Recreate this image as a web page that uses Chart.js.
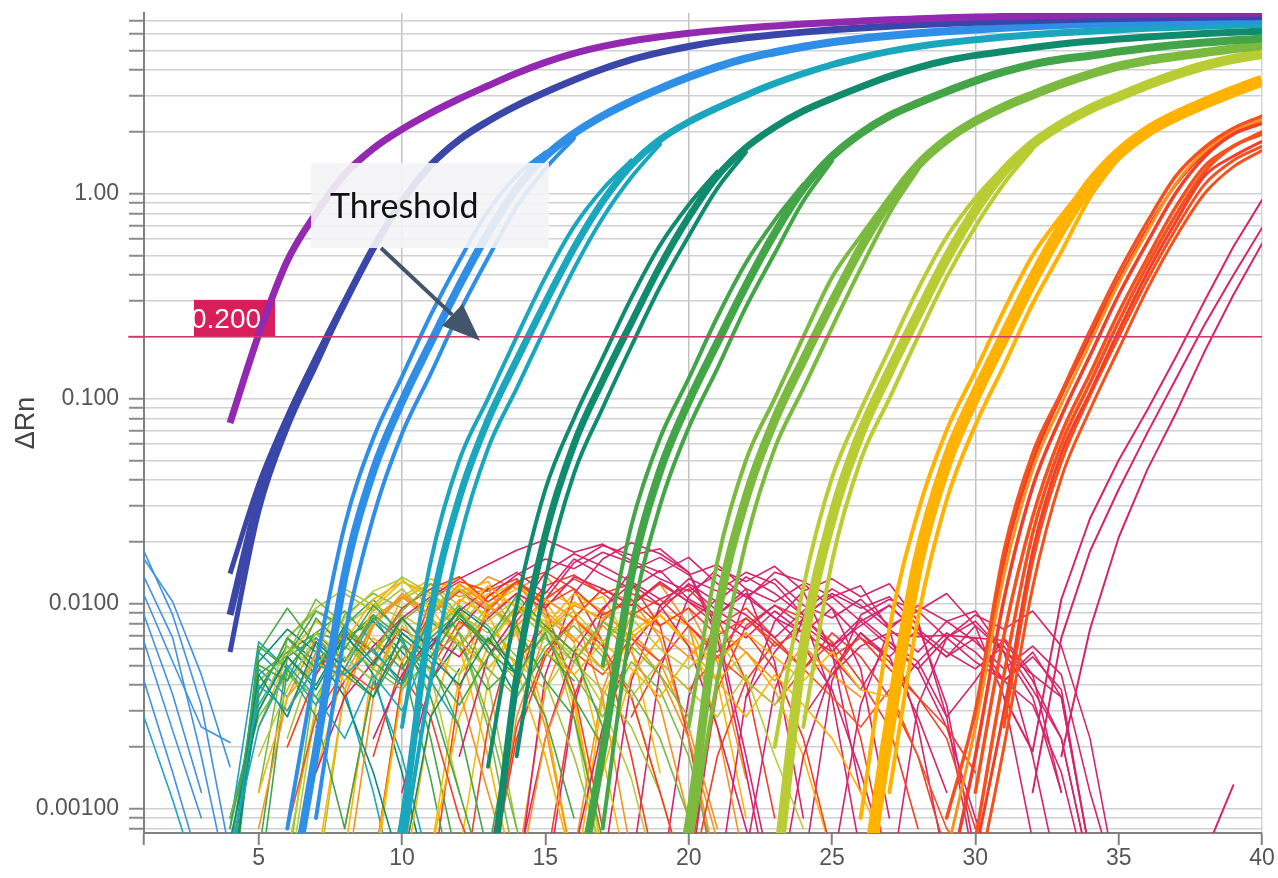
<!DOCTYPE html>
<html>
<head>
<meta charset="utf-8">
<script src="https://cdn.jsdelivr.net/npm/chart.js@4.4.1/dist/chart.umd.min.js"></script>
<style>
  html, body { margin: 0; padding: 0; background: #fff; }
  #wrap { width: 1278px; height: 878px; }
</style>
</head>
<body>
<div id="wrap"><canvas id="ampChart" width="1278" height="878"></canvas></div>
<script>
// --- Axes ---
const X_MIN = 1, X_MAX = 40;
const Y_MIN = 0.00076, Y_MAX = 7.6;
const xTickValues = [1, 5, 10, 15, 20, 25, 30, 35, 40];
const xGridValues = [10, 20, 30];
const yLabelValues = [0.001, 0.01, 0.1, 1];
const yLabelTexts = ["0.00100", "0.0100", "0.100", "1.00"];
const yDecades = [0.0001, 0.001, 0.01, 0.1, 1];
const ySteps = [1, 2, 3, 4, 5, 6, 7, 8, 9];

// --- Threshold ---
const THRESHOLD = 0.2;
const thresholdCycles = [0.45, 40];

// --- Amplification curves, ΔRn per cycle (first value = start cycle) ---
const purpleCurve = [0.076, 0.205, 0.47, 0.80, 1.24, 1.66, 2.06, 2.47, 2.9, 3.357, 3.864, 4.365, 4.83, 5.224, 5.553, 5.821, 6.053, 6.252, 6.427, 6.572, 6.71, 6.835, 6.94, 7.036, 7.117, 7.198, 7.264, 7.313, 7.364, 7.414, 7.447, 7.482, 7.516, 7.533, 7.551, 7.568, 7.586];
const darkBlueCurve = [0.0088, 0.0327, 0.0785, 0.154, 0.294, 0.542, 0.914, 1.377, 1.832, 2.254, 2.685, 3.12, 3.58, 4.05, 4.50, 4.88, 5.22, 5.51, 5.75, 5.95, 6.13, 6.29, 6.42, 6.55, 6.66, 6.76, 6.85, 6.92, 6.99, 7.05, 7.10, 7.15, 7.19, 7.22, 7.25, 7.28, 7.30];
const darkBlueLow = [0.0058, 0.028, 0.072, 0.145, 0.29, 0.54];
const darkBlueHigh = [0.014, 0.038, 0.082, 0.16, 0.3, 0.545];
const blueCurve = [0.0003, 0.0019, 0.0137, 0.0443, 0.0966, 0.187, 0.356, 0.64, 1.057, 1.517, 1.963, 2.393, 2.818, 3.25, 3.70, 4.15, 4.56, 4.89, 5.20, 5.47, 5.69, 5.88, 6.05, 6.19, 6.32, 6.44, 6.55, 6.64, 6.72, 6.80, 6.86, 6.91, 6.96, 7.01, 7.04];
const blueEarly = [0.0008, 0.005, 0.024, 0.064, 0.128, 0.255, 0.47, 0.82, 1.22, 1.59];
const blueLate = [0.0009, 0.007, 0.0265, 0.0673, 0.132, 0.263, 0.485, 0.863, 1.32, 1.86];
const cyanCurve = [0.0002, 0.00083, 0.0088, 0.0327, 0.0785, 0.154, 0.294, 0.542, 0.914, 1.377, 1.832, 2.235, 2.62, 3.02, 3.44, 3.85, 4.25, 4.61, 4.94, 5.22, 5.44, 5.63, 5.80, 5.95, 6.08, 6.19, 6.30, 6.40, 6.48, 6.55, 6.62, 6.67];
const cyanEarly = [0.0025, 0.016, 0.05, 0.1, 0.2, 0.39, 0.69, 1.05, 1.45];
const cyanLate = [0.0006, 0.0042, 0.02, 0.057, 0.112, 0.222, 0.43, 0.76, 1.2, 1.74];
const tealCurve = [0.0003, 0.00437, 0.0216, 0.0599, 0.1223, 0.2344, 0.4416, 0.767, 1.216, 1.675, 2.109, 2.53, 2.91, 3.31, 3.73, 4.12, 4.46, 4.72, 4.93, 5.16, 5.36, 5.53, 5.67, 5.81, 5.92, 6.03, 6.12, 6.20];
const tealEarly = [0.0016, 0.0098, 0.036, 0.08, 0.158, 0.31, 0.56, 0.88, 1.28];
const tealLate = [0.0018, 0.013, 0.043, 0.09, 0.18, 0.35, 0.62, 1.06, 1.59];
const greenCurve = [0.0003, 0.0019, 0.0137, 0.0443, 0.0966, 0.187, 0.356, 0.64, 1.057, 1.517, 1.963, 2.393, 2.765, 3.15, 3.545, 3.93, 4.27, 4.52, 4.70, 4.93, 5.13, 5.31, 5.45, 5.59, 5.70];
const greenEarly = [0.005, 0.024, 0.064, 0.125, 0.25, 0.46, 0.74, 1.11];
const greenLate = [0.0008, 0.008, 0.03, 0.072, 0.14, 0.28, 0.51, 0.92, 1.44];
const lightGreenCurve = [0.0002, 0.00083, 0.0088, 0.0327, 0.0785, 0.154, 0.294, 0.542, 0.914, 1.377, 1.832, 2.254, 2.65, 3.03, 3.43, 3.82, 4.18, 4.46, 4.67, 4.88, 5.09, 5.27];
const lightGreenEarly = [0.0025, 0.016, 0.05, 0.1, 0.2, 0.39, 0.62, 0.96];
const lightGreenLate = [0.0006, 0.0042, 0.02, 0.057, 0.112, 0.222, 0.43, 0.8, 1.31];
const limeCurve = [0.0004, 0.00608, 0.0261, 0.0676, 0.1352, 0.258, 0.483, 0.828, 1.285, 1.742, 2.17, 2.585, 2.97, 3.39, 3.81, 4.21, 4.54, 4.80];
const limeEarly = [0.002, 0.012, 0.041, 0.088, 0.174, 0.342, 0.614, 0.95, 1.35];
const limeLate = [0.0025, 0.016, 0.05, 0.1, 0.2, 0.39, 0.69, 1.12, 1.65];
const amberCurve = [0.0003, 0.00251, 0.01585, 0.049, 0.1035, 0.1995, 0.380, 0.676, 1.109, 1.567, 2.01, 2.395, 2.764, 3.152, 3.56];
const amberEarly = [0.0009, 0.0075, 0.028, 0.07, 0.136, 0.27, 0.5, 0.78, 1.16];
const amberLate = [0.0012, 0.0085, 0.032, 0.074, 0.145, 0.29, 0.52, 0.96, 1.49];
const red1 = [0.0009, 0.003, 0.018, 0.054, 0.107, 0.214, 0.411, 0.73, 1.22, 1.68, 2.08, 2.39];
const red2 = [0.0004, 0.0018, 0.0105, 0.037, 0.082, 0.162, 0.32, 0.578, 1.01, 1.51, 1.95, 2.2];
const red3 = [0.0012, 0.007, 0.0265, 0.0673, 0.132, 0.263, 0.485, 0.863, 1.36, 1.7, 2.0];
const red4 = [0.0006, 0.003, 0.018, 0.054, 0.107, 0.214, 0.411, 0.73, 1.22, 1.52, 1.8];
const red5 = [0.0004, 0.002, 0.012, 0.041, 0.088, 0.174, 0.342, 0.614, 1.0, 1.35, 1.62];
const red6 = [0.0006, 0.0025, 0.0138, 0.045, 0.094, 0.186, 0.365, 0.652, 1.12, 1.61, 2.0, 2.3];
const red7 = [0.0007, 0.0045, 0.022, 0.06, 0.119, 0.237, 0.447, 0.79, 1.28, 1.7, 1.95];
const red8 = [0.0025, 0.016, 0.049, 0.1035, 0.2, 0.38, 0.676, 1.109, 1.567, 1.95, 2.3];
const red9 = [0.0025, 0.016, 0.049, 0.1035, 0.2, 0.38, 0.676, 1.109, 1.45, 1.7];
const crimson1 = [0.0035, 0.0019, 0.0105, 0.026, 0.05, 0.088, 0.16, 0.3, 0.55, 0.93];
const crimson2 = [0.0012, 0.0068, 0.018, 0.036, 0.068, 0.125, 0.23, 0.4, 0.68];
const crimson3 = [0.0018, 0.0075, 0.021, 0.045, 0.085, 0.17, 0.32, 0.57];
const crimson4 = [0.0006, 0.0013];

// --- Baseline noise before take-off ---
const earlyBlue1 = [0.018, 0.0088, 0.0032, 0.0006];
const earlyBlue2 = [0.0165, 0.0102, 0.0045, 0.0016];
const earlyBlue3 = [0.0135, 0.0068, 0.0018, 0.0004];
const earlyBlue4 = [0.011, 0.0052, 0.0025, 0.0021];
const earlyBlue5 = [0.0088, 0.0036, 0.0012];
const earlyBlue6 = [0.0065, 0.0024, 0.0009];
const earlyBlue7 = [0.0042, 0.0015, 0.0005];
const earlyTeal1 = [0.0028, 0.0011, 0.0004];
const noise01 = [0.0005, 0.004, 0.003, 0.005, 0.0045, 0.006, 0.004, 0.009];
const noise02 = [0.0006, 0.0025, 0.005, 0.0035, 0.0022, 0.0045, 0.003, 0.0065];
const noise03 = [0.0007, 0.003, 0.0055, 0.004, 0.007, 0.005, 0.0085, 0.006, 0.0095, 0.0075, 0.0045];
const noise04 = [0.0005, 0.0045, 0.0028, 0.0065, 0.0048, 0.0035, 0.0072, 0.0055, 0.004, 0.0068, 0.0045];
const noise05 = [0.0006, 0.005, 0.0042, 0.0085, 0.006, 0.0098, 0.0072, 0.0055, 0.0088, 0.0065, 0.011, 0.0078, 0.0058, 0.0025];
const noise06 = [0.0008, 0.0035, 0.0068, 0.0048, 0.0075, 0.0052, 0.004, 0.0068, 0.0091, 0.0058, 0.0045, 0.0072, 0.0035, 0.002];
const noise07 = [0.0004, 0.0058, 0.0095, 0.0062, 0.0045, 0.0035, 0.0062, 0.0048, 0.0032, 0.0055, 0.0078, 0.0042, 0.0028, 0.0007];
const noise08 = [0.0005, 0.0042, 0.0056, 0.0105, 0.0078, 0.0058, 0.0092, 0.0125, 0.0088, 0.0064, 0.0098, 0.0075, 0.0052, 0.0082, 0.0062, 0.0045, 0.0028];
const noise09 = [0.0009, 0.0028, 0.0045, 0.0035, 0.0062, 0.0048, 0.0038, 0.0055, 0.0072, 0.0048, 0.0035, 0.0062, 0.0078, 0.0055, 0.0038, 0.0022, 0.0009];
const noise10 = [0.003, 0.0062, 0.0048, 0.0085, 0.0115, 0.0132, 0.0095, 0.0118, 0.0082, 0.0105, 0.0072, 0.0092, 0.0065, 0.0085, 0.006, 0.0048, 0.0068, 0.0042, 0.0032, 0.0055];
const noise11 = [0.0018, 0.0038, 0.0072, 0.0055, 0.0042, 0.0078, 0.0058, 0.0045, 0.0068, 0.0052, 0.0038, 0.0062, 0.0048, 0.0035, 0.0052, 0.0038, 0.0028, 0.0045, 0.0018, 0.0008];
const noise12 = [0.0025, 0.0055, 0.0082, 0.0065, 0.0105, 0.0128, 0.0108, 0.0085, 0.0122, 0.0095, 0.0075, 0.0102, 0.0082, 0.0068, 0.0088, 0.0065, 0.0052, 0.0072, 0.0055, 0.0042, 0.0058, 0.0038, 0.0035];
const noise13 = [0.0012, 0.0035, 0.0052, 0.0042, 0.0068, 0.0052, 0.0085, 0.0065, 0.0048, 0.0072, 0.0058, 0.0045, 0.0065, 0.0048, 0.0035, 0.0055, 0.0042, 0.0028, 0.0045, 0.0032, 0.0022, 0.0012, 0.0006];
const noise14 = [0.003, 0.0058, 0.0045, 0.0078, 0.0112, 0.0088, 0.0125, 0.0098, 0.0078, 0.0105, 0.0085, 0.0065, 0.0092, 0.0072, 0.0055, 0.0075, 0.0058, 0.0042, 0.0062, 0.0045, 0.0035];
const noise15 = [0.002, 0.0045, 0.0072, 0.0058, 0.0095, 0.0118, 0.0135, 0.0102, 0.0128, 0.0098, 0.0118, 0.0088, 0.0105, 0.0078, 0.0095, 0.007, 0.0085, 0.0062, 0.0075, 0.0055, 0.0068, 0.0048, 0.0035, 0.0025, 0.0015];
const noise16 = [0.0008, 0.0028, 0.0048, 0.0038, 0.0062, 0.0048, 0.0082, 0.0065, 0.0052, 0.0078, 0.0058, 0.0045, 0.0068, 0.0052, 0.0038, 0.0055, 0.0042, 0.0032, 0.0048, 0.0035, 0.0025, 0.0038, 0.0018, 0.0008, 0.0005];
const noise17 = [0.0025, 0.0042, 0.0062, 0.0085, 0.0108, 0.0132, 0.0155, 0.0182, 0.0205, 0.0178, 0.0195, 0.0162, 0.0142, 0.0168, 0.0125, 0.0108, 0.0132, 0.0098, 0.0085, 0.0105, 0.0078, 0.0092, 0.0068, 0.0082, 0.0058, 0.0045, 0.0035, 0.0006];
const noise18 = [0.0015, 0.0035, 0.0052, 0.0075, 0.0062, 0.0092, 0.0118, 0.0142, 0.0112, 0.0165, 0.0138, 0.0118, 0.0145, 0.0105, 0.0088, 0.0112, 0.0085, 0.0072, 0.0095, 0.0068, 0.0055, 0.0075, 0.0058, 0.0048, 0.0062, 0.0038, 0.0022, 0.0005];
const noise19 = [0.0022, 0.0045, 0.0068, 0.0055, 0.0085, 0.0112, 0.0095, 0.0135, 0.0118, 0.0098, 0.0128, 0.0102, 0.0085, 0.0068, 0.0092, 0.0072, 0.0058, 0.0082, 0.0062, 0.0048, 0.0068, 0.0052, 0.0042, 0.0055, 0.0038, 0.0006];
const noise20 = [0.0018, 0.0055, 0.0088, 0.0142, 0.0175, 0.0152, 0.0128, 0.0105, 0.0122, 0.0092, 0.0075, 0.0098, 0.0078, 0.0062, 0.0085, 0.0065, 0.0052, 0.0072, 0.0058, 0.0042, 0.0032, 0.0015, 0.0004];
const noise21 = [0.0004, 0.0062, 0.0048, 0.0028, 0.0008, 0.0042, 0.0068, 0.0052, 0.0025, 0.0006, 0.0035, 0.0058, 0.0042];
const noise22 = [0.0003, 0.0052, 0.0075, 0.0058, 0.0035, 0.0015, 0.0005, 0.0028, 0.0048];
const noise23 = [0.0008, 0.0042, 0.0085, 0.0062, 0.0038, 0.0012, 0.0004, 0.0022, 0.0052, 0.0078, 0.0058, 0.0032, 0.0009];
const noise24 = [0.0005, 0.0038, 0.0072, 0.0105, 0.0088, 0.0048, 0.0018, 0.0005, 0.0015, 0.0045, 0.0068];
const noise25 = [0.0045, 0.0028, 0.0009, 0.0004, 0.0025, 0.0058, 0.0085, 0.0062, 0.0035, 0.0012, 0.0004, 0.0018, 0.0042, 0.0065];
const noise26 = [0.0005, 0.0022, 0.0058, 0.0095, 0.0125, 0.0098, 0.0062, 0.0025, 0.0008, 0.0003, 0.0018, 0.0048, 0.0072, 0.0055, 0.0028, 0.0012];
const noise27 = [0.0082, 0.0105, 0.0088, 0.0068, 0.0092, 0.0118, 0.0098, 0.0075, 0.0058, 0.0082, 0.0065, 0.0048, 0.0062, 0.0045, 0.0012, 0.0004];
const noise28 = [0.0028, 0.0045, 0.0062, 0.0072, 0.0069, 0.007, 0.0068, 0.0066, 0.0042, 0.0022, 0.0005];
const noise29 = [0.0035, 0.0068, 0.0095, 0.0118, 0.0098, 0.0135, 0.0112, 0.0088, 0.0072, 0.0095, 0.0068, 0.0052, 0.0038, 0.0025, 0.0012];
const noise30 = [0.0009, 0.0032, 0.0055, 0.0068, 0.0048, 0.0085, 0.0065, 0.0042, 0.0025];
const noise31 = [0.0055, 0.0038, 0.0065, 0.0048, 0.0025, 0.0009, 0.0004];
const noise32 = [0.0035, 0.0052, 0.0028, 0.0042, 0.0068, 0.0045, 0.0012];
const noise33 = [0.0062, 0.0045, 0.0072, 0.0052, 0.0035, 0.0022, 0.0008];
const noise34 = [0.0006, 0.0048, 0.0035, 0.0052, 0.0065];
const noise35 = [0.0003, 0.0045, 0.0058, 0.0072, 0.0052, 0.0088, 0.0068, 0.0035, 0.0012, 0.0004];
const noise36 = [0.0004, 0.0038, 0.0062, 0.0045, 0.0078, 0.0058, 0.0042, 0.0065, 0.0085, 0.0062, 0.0035];
const noise37 = [0.0012, 0.0068, 0.0092, 0.0075, 0.0058, 0.0082, 0.0105, 0.0072, 0.0028, 0.0008, 0.0003];
const noise38 = [0.0008, 0.0065, 0.0048, 0.0032, 0.0055, 0.0042, 0.0018, 0.0005];
const noise39 = [0.0022, 0.0058, 0.0112, 0.0092, 0.0118, 0.0085, 0.0062, 0.0098, 0.0075, 0.0042, 0.0018, 0.0006];
const noise40 = [0.0015, 0.0048, 0.0095, 0.0128, 0.0112, 0.0135, 0.0098, 0.0072, 0.0105, 0.0085, 0.0058, 0.0035, 0.0012, 0.0004];
const noise41 = [0.0035, 0.0078, 0.0108, 0.0088, 0.0118, 0.0095, 0.0125, 0.0088, 0.0065, 0.0092, 0.0068, 0.0045, 0.0022, 0.0007];
const noise42 = [0.0018, 0.0052, 0.0088, 0.0115, 0.0092, 0.0128, 0.0105, 0.0132, 0.0112, 0.0088, 0.0105, 0.0078, 0.0055, 0.0072, 0.0048, 0.0022, 0.0006];
const noise43 = [0.0012, 0.0042, 0.0075, 0.0108, 0.0138, 0.0165, 0.0148, 0.0178, 0.0158, 0.0132, 0.0115, 0.0138, 0.0108, 0.0085, 0.0062, 0.0038, 0.0015, 0.0005];
const noise44 = [0.0006, 0.0032, 0.0065, 0.0048, 0.0088, 0.0072, 0.0095, 0.0062, 0.0042, 0.0075, 0.0055, 0.0032, 0.0014, 0.0004];
const noise45 = [0.0025, 0.0048, 0.0072, 0.0092, 0.0065, 0.0048, 0.0082, 0.0062, 0.0038, 0.0052, 0.0028, 0.0009];
const noise46 = [0.0006, 0.0028, 0.0062, 0.0095, 0.0078, 0.0112, 0.0092, 0.0068, 0.0088, 0.0062, 0.0042, 0.0058, 0.0038, 0.0018, 0.0006];
const noise47 = [0.0004, 0.0022, 0.0055, 0.0085, 0.0118, 0.0098, 0.0125, 0.0102, 0.0078, 0.0095, 0.0068, 0.0048, 0.0065, 0.0042, 0.0025, 0.0008];
const noise48 = [0.0006, 0.0025, 0.0062, 0.0092, 0.0125, 0.0102, 0.0135, 0.0112, 0.0088, 0.0108, 0.0082, 0.0098, 0.0072, 0.0055, 0.0078, 0.0058, 0.0035, 0.0012];
const noise49 = [0.0008, 0.0035, 0.0068, 0.0052, 0.0085, 0.0108, 0.0082, 0.0062, 0.0088, 0.0112, 0.0092, 0.0068, 0.0048, 0.0072, 0.0052, 0.0025, 0.0008];
const noise50 = [0.0055, 0.0038, 0.0068, 0.0082, 0.0058, 0.0042, 0.0065, 0.0048];
const noise51 = [0.0048, 0.0072, 0.0098, 0.0078, 0.0055, 0.0068, 0.0045, 0.0028, 0.0052, 0.0038, 0.0018, 0.0005];
const noise52 = [0.0035, 0.0058, 0.0085, 0.0062, 0.0078, 0.0098, 0.0072, 0.0055, 0.0068, 0.0042, 0.0058, 0.0035, 0.0006];
const noise53 = [0.0028, 0.0052, 0.0078, 0.0058, 0.0085, 0.0065, 0.0048, 0.0072, 0.0055, 0.0035, 0.0018, 0.0006];
const noise54 = [0.0004, 0.0035, 0.0092, 0.0125, 0.0108, 0.0118, 0.0072, 0.0025, 0.0005];
const noise55 = [0.0005, 0.0042, 0.0105, 0.0128, 0.0115, 0.0132, 0.0095, 0.0038, 0.0008];
const noise56 = [0.0004, 0.0028, 0.0078, 0.0112, 0.0098, 0.0082, 0.0035, 0.0006];
const noise57 = [0.0006, 0.0045, 0.0098, 0.0118, 0.0102, 0.0065, 0.0018, 0.0004];
const noise58 = [0.0003, 0.0025, 0.0082, 0.0122, 0.0138, 0.0112, 0.0125, 0.0078, 0.0022, 0.0004];
const noise59 = [0.0005, 0.0038, 0.0105, 0.0158, 0.0192, 0.0172, 0.0185, 0.0142, 0.0068, 0.0015, 0.0003];
const noise60 = [0.0004, 0.0032, 0.0092, 0.0145, 0.0168, 0.0138, 0.0155, 0.0118, 0.0052, 0.0009];
const noise61 = [0.0005, 0.0042, 0.0098, 0.0132, 0.0115, 0.0142, 0.0125, 0.0088, 0.0035, 0.0006];
const noise62 = [0.0004, 0.0035, 0.0088, 0.0118, 0.0102, 0.0125, 0.0095, 0.0048, 0.0009];
const noise63 = [0.0006, 0.0038, 0.0085, 0.0112, 0.0095, 0.0108, 0.0078, 0.0032, 0.0006];
const noise64 = [0.0005, 0.0032, 0.0075, 0.0098, 0.0082, 0.0092, 0.0058, 0.0018, 0.0004];
const noise65 = [0.0004, 0.0028, 0.0072, 0.0098, 0.0085, 0.0105, 0.0068, 0.0022, 0.0005];
const noise66 = [0.0005, 0.0038, 0.0085, 0.0108, 0.0095, 0.0062, 0.0018, 0.0004];
const noise67 = [0.0004, 0.0032, 0.0078, 0.0098, 0.0085, 0.0045, 0.0012];
const noise68 = [0.0004, 0.0048, 0.0072, 0.0065, 0.0088, 0.0052, 0.0014, 0.0003];
const noise69 = [0.0005, 0.0035, 0.0082, 0.0112, 0.0098, 0.0118, 0.0085, 0.0042, 0.0009];
const noise70 = [0.0004, 0.0045, 0.0105, 0.0142, 0.0128, 0.0108, 0.0122, 0.0075, 0.0025, 0.0005];
const noise71 = [0.0006, 0.0038, 0.0088, 0.0078, 0.0095, 0.0052, 0.0014];
const noise72 = [0.0004, 0.0042, 0.0095, 0.0122, 0.0108, 0.0128, 0.0088, 0.0032, 0.0006];
const noise73 = [0.0003, 0.0058, 0.0042, 0.0065, 0.0038, 0.0012, 0.0003];
const noise74 = [0.0004, 0.0035, 0.0068, 0.0052, 0.0072, 0.0045, 0.0015, 0.0004];
const noise75 = [0.0006, 0.0055, 0.0092, 0.0078, 0.0105, 0.0068, 0.0022, 0.0005];
const noise76 = [0.0005, 0.0045, 0.0088, 0.0112, 0.0095, 0.0118, 0.0072, 0.0025, 0.0005];
const noise77 = [0.0004, 0.0038, 0.0082, 0.0105, 0.0125, 0.0098, 0.0042, 0.0008];
const noise78 = [0.0006, 0.0052, 0.0108, 0.0132, 0.0115, 0.0128, 0.0082, 0.0028, 0.0005];
const noise79 = [0.0005, 0.0048, 0.0102, 0.0135, 0.0118, 0.0138, 0.0092, 0.0035, 0.0006];
const noise80 = [0.0004, 0.0038, 0.0095, 0.0128, 0.0142, 0.0118, 0.0065, 0.0018, 0.0004];
const noise81 = [0.0006, 0.0042, 0.0088, 0.0115, 0.0098, 0.0108, 0.0062, 0.0015];
const noise82 = [0.0004, 0.0045, 0.0112, 0.0165, 0.0198, 0.0175, 0.0142, 0.0075, 0.0018, 0.0004];
const noise83 = [0.0005, 0.0038, 0.0085, 0.0118, 0.0102, 0.0125, 0.0078, 0.0025, 0.0005];
const noise84 = [0.0005, 0.0048, 0.0108, 0.0148, 0.0128, 0.0152, 0.0115, 0.0058, 0.0012];
const noise85 = [0.0004, 0.0035, 0.0082, 0.0115, 0.0132, 0.0108, 0.0125, 0.0082, 0.0028, 0.0005];
const noise86 = [0.0005, 0.0042, 0.0088, 0.0105, 0.0092, 0.0112, 0.0078, 0.0035, 0.0007];
const noise87 = [0.0004, 0.0032, 0.0068, 0.0088, 0.0075, 0.0092, 0.0062, 0.0022, 0.0004];
const noise88 = [0.0005, 0.0038, 0.0078, 0.0098, 0.0085, 0.0065, 0.0022, 0.0005];
const noise89 = [0.0004, 0.0035, 0.0072, 0.0092, 0.0078, 0.0042, 0.0009];
const noise90 = [0.0005, 0.0042, 0.0092, 0.0118, 0.0102, 0.0125, 0.0085, 0.0028, 0.0005];

// --- Colours per dilution ---
const C = {
  purple: "#9329b0", darkBlue: "#3b46a9", blue: "#2f8ee5", cyan: "#1aa6bd",
  teal: "#108b6e", green: "#43a548", lightGreen: "#7cba3f", lime: "#b9cc34",
  yellowGreen: "#a9c23a", yellow: "#f2c000", amber: "#ffb300", orange: "#f7921e",
  red: "#ef3f2a", redOrange: "#f4511e", crimson: "#d6246b", earlyBlue: "#3f92e2",
  threshold: "#cc3a6a"
};

// series: [values, start cycle, colour, line width, smooth]
const curves = [
  [purpleCurve, 4, C.purple, 7, true],
  [darkBlueCurve, 4, C.darkBlue, 7, true],
  [darkBlueLow, 4, C.darkBlue, 5, true],
  [darkBlueHigh, 4, C.darkBlue, 5, true],
  [blueCurve, 6, C.blue, 8, true],
  [blueEarly, 6, C.blue, 4, true],
  [blueLate, 7, C.blue, 4, true],
  [cyanCurve, 9, C.cyan, 7, true],
  [cyanEarly, 10, C.cyan, 4, true],
  [cyanLate, 10, C.cyan, 4, true],
  [tealCurve, 13, C.teal, 7, true],
  [tealEarly, 13, C.teal, 4, true],
  [tealLate, 14, C.teal, 4, true],
  [greenCurve, 16, C.green, 8, true],
  [greenEarly, 17, C.green, 4, true],
  [greenLate, 17, C.green, 4, true],
  [lightGreenCurve, 19, C.lightGreen, 9, true],
  [lightGreenEarly, 20, C.lightGreen, 4, true],
  [lightGreenLate, 20, C.lightGreen, 4, true],
  [limeCurve, 23, C.lime, 10, true],
  [limeEarly, 23, C.lime, 4, true],
  [limeLate, 24, C.lime, 4, true],
  [amberCurve, 26, C.amber, 12, true],
  [amberEarly, 26, C.amber, 4, true],
  [amberLate, 27, C.amber, 4, true],
  [red1, 29, C.redOrange, 3.5, true],
  [red2, 29, C.red, 3.5, true],
  [red3, 30, C.redOrange, 3.5, true],
  [red4, 30, C.red, 3, true],
  [red5, 30, C.redOrange, 3, true],
  [red6, 29, C.orange, 3, true],
  [red7, 30, C.redOrange, 3.5, true],
  [red8, 30, C.red, 3, true],
  [red9, 31, C.redOrange, 3, true],
  [crimson1, 31, C.crimson, 2, false],
  [crimson2, 32, C.crimson, 2, false],
  [crimson3, 33, C.crimson, 2, false],
  [crimson4, 38, C.crimson, 2, false],
  [noise01, 4, C.cyan, 1.6, false],
  [noise02, 4, C.cyan, 1.6, false],
  [noise03, 4, C.teal, 1.6, false],
  [noise04, 4, C.teal, 1.6, false],
  [noise05, 4, C.green, 1.6, false],
  [noise06, 4, C.green, 1.6, false],
  [noise07, 4, C.green, 1.6, false],
  [noise08, 4, C.lightGreen, 1.6, false],
  [noise09, 4, C.lightGreen, 1.6, false],
  [noise10, 5, C.lime, 1.6, false],
  [noise11, 5, C.lime, 1.6, false],
  [noise12, 5, C.amber, 1.6, false],
  [noise13, 5, C.amber, 1.6, false],
  [noise14, 6, C.orange, 1.6, false],
  [noise15, 6, C.red, 1.6, false],
  [noise16, 6, C.redOrange, 1.6, false],
  [noise17, 7, C.crimson, 1.6, false],
  [noise18, 7, C.crimson, 1.6, false],
  [noise19, 9, C.crimson, 1.6, false],
  [noise20, 12, C.crimson, 1.6, false],
  [noise21, 4, C.green, 1.6, false],
  [noise22, 4, C.teal, 1.6, false],
  [noise23, 8, C.orange, 1.6, false],
  [noise24, 9, C.amber, 1.6, false],
  [noise25, 10, C.red, 1.6, false],
  [noise26, 14, C.crimson, 1.6, false],
  [noise27, 20, C.crimson, 1.6, false],
  [noise28, 24, C.crimson, 1.6, false],
  [noise29, 5, C.yellowGreen, 1.6, false],
  [noise30, 4, C.cyan, 1.6, false],
  [noise31, 25, C.crimson, 1.6, false],
  [noise32, 27, C.crimson, 1.6, false],
  [noise33, 24, C.red, 1.6, false],
  [noise34, 4, C.blue, 1.6, false],
  [noise35, 4, C.green, 1.6, false],
  [noise36, 4, C.teal, 1.6, false],
  [noise37, 5, C.lightGreen, 1.6, false],
  [noise38, 4, C.cyan, 1.6, false],
  [noise39, 6, C.yellowGreen, 1.6, false],
  [noise40, 7, C.amber, 1.6, false],
  [noise41, 8, C.orange, 1.6, false],
  [noise42, 9, C.red, 1.6, false],
  [noise43, 10, C.crimson, 1.6, false],
  [noise44, 6, C.lime, 1.6, false],
  [noise45, 5, C.green, 1.6, false],
  [noise46, 11, C.amber, 1.6, false],
  [noise47, 13, C.red, 1.6, false],
  [noise48, 16, C.crimson, 1.6, false],
  [noise49, 5, C.orange, 1.6, false],
  [noise50, 6, C.teal, 1.6, false],
  [noise51, 10, C.lightGreen, 1.6, false],
  [noise52, 22, C.crimson, 1.6, false],
  [noise53, 18, C.red, 1.6, false],
  [noise54, 8, C.orange, 1.6, false],
  [noise55, 9, C.red, 1.6, false],
  [noise56, 10, C.amber, 1.6, false],
  [noise57, 11, C.yellow, 1.6, false],
  [noise58, 12, C.red, 1.6, false],
  [noise59, 13, C.crimson, 1.6, false],
  [noise60, 15, C.crimson, 1.6, false],
  [noise61, 17, C.crimson, 1.6, false],
  [noise62, 19, C.crimson, 1.6, false],
  [noise63, 22, C.crimson, 1.6, false],
  [noise64, 25, C.crimson, 1.6, false],
  [noise65, 13, C.orange, 1.6, false],
  [noise66, 7, C.amber, 1.6, false],
  [noise67, 6, C.lime, 1.6, false],
  [noise68, 5, C.green, 1.6, false],
  [noise69, 15, C.red, 1.6, false],
  [noise70, 20, C.crimson, 1.6, false],
  [noise71, 16, C.orange, 1.6, false],
  [noise72, 9, C.yellow, 1.6, false],
  [noise73, 4, C.cyan, 1.6, false],
  [noise74, 4, C.teal, 1.6, false],
  [noise75, 5, C.green, 1.6, false],
  [noise76, 6, C.lightGreen, 1.6, false],
  [noise77, 7, C.yellowGreen, 1.6, false],
  [noise78, 8, C.amber, 1.6, false],
  [noise79, 10, C.orange, 1.6, false],
  [noise80, 11, C.red, 1.6, false],
  [noise81, 12, C.yellow, 1.6, false],
  [noise82, 14, C.crimson, 1.6, false],
  [noise83, 14, C.orange, 1.6, false],
  [noise84, 18, C.crimson, 1.6, false],
  [noise85, 21, C.crimson, 1.6, false],
  [noise86, 24, C.crimson, 1.6, false],
  [noise87, 27, C.crimson, 1.6, false],
  [noise88, 20, C.red, 1.6, false],
  [noise89, 16, C.amber, 1.6, false],
  [noise90, 9, C.lime, 1.6, false],
  [earlyBlue1, 1, C.earlyBlue, 1.6, false],
  [earlyBlue2, 1, C.earlyBlue, 1.6, false],
  [earlyBlue3, 1, C.earlyBlue, 1.6, false],
  [earlyBlue4, 1, C.earlyBlue, 1.6, false],
  [earlyBlue5, 1, C.earlyBlue, 1.6, false],
  [earlyBlue6, 1, C.earlyBlue, 1.6, false],
  [earlyBlue7, 1, C.earlyBlue, 1.6, false],
  [earlyTeal1, 1, C.cyan, 1.6, false]
];

// --- Build datasets ---
const datasets = [{
  data: thresholdCycles.map(c => ({ x: c, y: THRESHOLD })),
  borderColor: C.threshold,
  borderWidth: 1.5,
  pointRadius: 0,
  clip: { left: 20, right: 0, top: 0, bottom: 0 }
}];

curves.forEach(([values, start, color, width, smooth]) => {
  datasets.push({
    data: values.map((v, i) => ({ x: start + i, y: v })),
    borderColor: color,
    borderWidth: width,
    pointRadius: 0,
    tension: smooth ? 0.4 : 0,
    cubicInterpolationMode: smooth ? "monotone" : "default",
    borderJoinStyle: "round",
    borderCapStyle: width > 4 ? "butt" : "round"
  });
});

// --- Grid values for the log axis ---
const yGridValues = [];
yDecades.forEach(d => ySteps.forEach(s => {
  const v = d * s;
  if (v >= Y_MIN && v <= Y_MAX) yGridValues.push(v);
}));

function yLabel(v) {
  for (let i = 0; i < yLabelValues.length; i++) {
    if (Math.abs(v / yLabelValues[i] - 1) < 1e-6) return yLabelTexts[i];
  }
  return "";
}

function xGridColor(v) {
  if (xGridValues.includes(v)) return "#c2c2c2";
  if (v === X_MAX) return "#d6d6d6";
  return "rgba(0,0,0,0)";
}

// --- Threshold tag, callout and arrow ---
const thresholdNotes = {
  id: "thresholdNotes",
  beforeDatasetsDraw(chart) {
    const { ctx, scales: { y } } = chart;
    const yT = y.getPixelForValue(THRESHOLD);
    ctx.save();
    ctx.fillStyle = "#d81e5b";
    ctx.fillRect(194, yT - 37, 81, 37);
    ctx.beginPath();
    ctx.rect(194, yT - 37, 81, 37);
    ctx.clip();
    ctx.fillStyle = "#ffffff";
    ctx.font = "28px 'Liberation Sans', Arial, sans-serif";
    ctx.textBaseline = "middle";
    ctx.textAlign = "left";
    ctx.fillText(THRESHOLD.toFixed(3), 191, yT - 17);
    ctx.restore();
  },
  afterDatasetsDraw(chart) {
    const { ctx, scales: { y } } = chart;
    const yT = y.getPixelForValue(THRESHOLD);
    ctx.save();
    ctx.fillStyle = "rgba(244,244,246,0.9)";
    ctx.fillRect(311, 163, 238, 85);
    ctx.fillStyle = "#111";
    ctx.font = "34px Lato, 'Open Sans', sans-serif";
    ctx.textBaseline = "middle";
    ctx.fillText("Threshold", 330, 207);

    // arrow
    const x0 = 381, y0 = 248, x1 = 480, y1 = yT + 4;
    const ang = Math.atan2(y1 - y0, x1 - x0);
    const headLen = 38, headHalf = 15;
    const bx = x1 - headLen * Math.cos(ang), by = y1 - headLen * Math.sin(ang);
    ctx.strokeStyle = "#44546a";
    ctx.lineWidth = 4;
    ctx.beginPath();
    ctx.moveTo(x0, y0);
    ctx.lineTo(bx, by);
    ctx.stroke();
    ctx.fillStyle = "#44546a";
    ctx.beginPath();
    ctx.moveTo(x1, y1);
    ctx.lineTo(bx + headHalf * Math.sin(ang), by - headHalf * Math.cos(ang));
    ctx.lineTo(bx - headHalf * Math.sin(ang), by + headHalf * Math.cos(ang));
    ctx.closePath();
    ctx.fill();
    ctx.restore();
  }
};

Chart.defaults.font.family = "'Liberation Sans', Arial, sans-serif";

new Chart(document.getElementById("ampChart"), {
  type: "line",
  data: { datasets },
  plugins: [thresholdNotes],
  options: {
    responsive: false,
    animation: false,
    devicePixelRatio: 1,
    layout: { padding: { top: 13, right: 16, left: 0, bottom: 0 } },
    plugins: { legend: { display: false }, tooltip: { enabled: false } },
    scales: {
      x: {
        type: "linear",
        min: X_MIN,
        max: X_MAX,
        afterBuildTicks: s => { s.ticks = xTickValues.map(v => ({ value: v })); },
        afterFit: s => { s.height = 45; },
        ticks: {
          autoSkip: false,
          maxRotation: 0,
          color: "#555",
          font: { size: 23 },
          padding: 0,
          callback: v => (v === X_MIN ? "" : String(v))
        },
        grid: {
          color: ctx => xGridColor(ctx.tick.value),
          lineWidth: 1.5,
          tickLength: 12,
          tickColor: "#808080",
          tickWidth: 2
        },
        border: { color: "#808080", width: 2 }
      },
      y: {
        type: "logarithmic",
        min: Y_MIN,
        max: Y_MAX,
        afterBuildTicks: s => { s.ticks = yGridValues.map(v => ({ value: v })); },
        afterFit: s => { s.width = 144; s.paddingTop = 0; s.paddingBottom = 0; },
        ticks: {
          autoSkip: false,
          color: "#555",
          font: { size: 23 },
          padding: 10,
          callback: v => yLabel(v)
        },
        grid: {
          color: "#d0d0d0",
          lineWidth: 1.5,
          tickLength: 15,
          tickColor: "#8a8a8a",
          tickWidth: 2
        },
        border: { color: "#808080", width: 2 },
        title: {
          display: true,
          text: "ΔRn",
          color: "#444",
          font: { size: 27 },
          padding: { top: 10, bottom: 0 }
        }
      }
    }
  }
});
</script>
</body>
</html>
